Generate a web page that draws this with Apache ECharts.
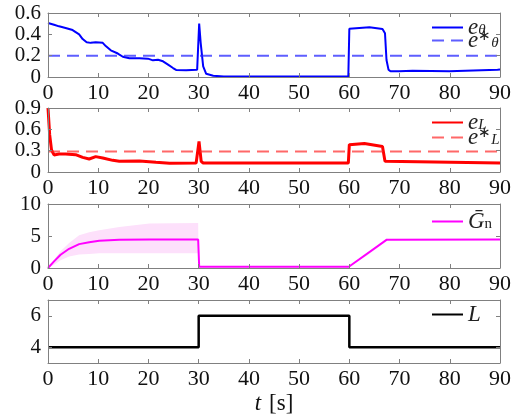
<!DOCTYPE html>
<html><head><meta charset="utf-8">
<script src="https://cdn.jsdelivr.net/npm/echarts@6/dist/echarts.min.js"></script>
<style>html,body{margin:0;padding:0;background:#fff}#c{width:517px;height:420px}</style>
</head><body><div id="c"></div>
<script>
// ---- data ----
const xTicks = [0,10,20,30,40,50,60,70,80,90];
const yTicks1 = [0,0.2,0.4,0.6];
const yTicks2 = [0,0.3,0.6,0.9];
const yTicks3 = [0,5,10];
const yTicks4 = [4,6];

const thetaT = [0,1.2,2.2,3.5,4.9,6.2,6.9,7.7,8.5,9.5,10.9,11.5,12.5,13.9,14.9,16.2,18.2,19.9,20.9,21.9,22.9,23.9,24.9,25.5,27.5,29.7,30.1,30.4,30.9,31.5,32.9,35,59.8,60,64,66.6,67.1,67.4,67.8,68.2,69.9,72.6,79.9,89.5,90];
const thetaV = [.506,.49,.475,.46,.44,.40,.356,.325,.32,.325,.32,.29,.25,.22,.19,.175,.175,.172,.156,.162,.147,.116,.084,.066,.0625,.069,.5,.32,.1,.03,.012,.005,.005,.453,.466,.45,.41,.16,.069,.053,.053,.059,.053,.069,.07];
const thetaRef = 0.2;

const eLT = [0,0.33,0.7,1.2,2.2,3.5,5.5,6.9,8.2,9.5,10.9,12.9,14.2,18.2,21.5,24.2,29.5,29.8,30.07,30.5,30.9,59.8,60,63,66.6,67.1,67.4,90];
const eLV = [.9,.525,.31,.24,.253,.253,.244,.206,.183,.216,.197,.164,.15,.155,.136,.122,.127,.127,.43,.15,.127,.125,.384,.40,.36,.15,.127,.125];
const eLRef = 0.29;

const gnT = [0,1.2,2.5,4.2,6.2,8.2,10.2,14.2,20.2,29.9,30.1,59.9,60,67.4,90];
const gnV = [0,1.04,2.07,3.0,3.73,4.04,4.25,4.4,4.46,4.46,0.2,0.2,0,4.4,4.45];

const bandT  = [0,1.2,2.5,4.2,6.2,8.2,10.2,14.2,20.2,29.9,30.0,59.9,60,63.7,67.4,68,90];
const bandLo = [0,0.5,1.2,1.8,2.1,2.2,2.3,2.3,2.3,2.3,0.2,0.2,0,2.05,4.25,4.45,4.45];
const bandHi = [0,1.3,2.6,3.9,5.1,5.6,5.9,6.4,6.95,7.05,0.2,0.2,0,2.35,4.6,4.45,4.45];

const LT = [0,30,30,60,60,90];
const LV = [4,4,6,6,4,4];

// ---- helpers ----
const zip = (a,b) => a.map((t,i)=>[t,b[i]]);
const FONT = 'Liberation Serif';
const AX = '#808080';
const grids = [
  {left:48, right:17, top:13, height:64},
  {left:48, right:17, top:108, height:64},
  {left:48, right:17, top:204, height:64},
  {left:48, right:17, top:300, height:63}
];
const yCfg = [
  {min:0,max:0.6,ticks:yTicks1},
  {min:0,max:0.9,ticks:yTicks2},
  {min:0,max:10,ticks:yTicks3},
  {min:3,max:7,ticks:yTicks4}
];
const xAxis=[], yAxis=[];
grids.forEach((g,i)=>{
  const base = {type:'value', gridIndex:i, min:0, max:90, z:10,
    axisLine:{show:true,onZero:false,lineStyle:{color:AX,width:1}},
    axisTick:{show:true,inside:true,length:4,lineStyle:{color:AX},customValues:xTicks},
    splitLine:{show:false}};
  xAxis.push(Object.assign({}, base, {position:'bottom',
    axisLabel:{show:true,fontFamily:FONT,fontSize:22,color:'#111',margin:5,customValues:xTicks,hideOverlap:false}},
    i===3 ? {name:'{t|t}{s|[s]}', nameLocation:'middle', nameGap:29,
      nameTextStyle:{rich:{t:{fontFamily:FONT,fontStyle:'italic',fontSize:23,color:'#111',padding:[0,8,0,0]},
                           s:{fontFamily:FONT,fontSize:23,color:'#111'}}}} : {}));
  xAxis.push(Object.assign({}, base, {position:'top', axisLabel:{show:false}}));
  const y = yCfg[i];
  const yb = {type:'value', gridIndex:i, min:y.min, max:y.max, z:10,
    axisLine:{show:true,onZero:false,lineStyle:{color:AX,width:1}},
    axisTick:{show:true,inside:true,length:4,lineStyle:{color:AX},customValues:y.ticks},
    splitLine:{show:false}};
  yAxis.push(Object.assign({}, yb, {position:'left',
    axisLabel:{show:true,fontFamily:FONT,fontSize:21,color:'#111',margin:7,customValues:y.ticks,hideOverlap:false}}));
  yAxis.push(Object.assign({}, yb, {position:'right', axisLabel:{show:false}}));
});
const line = (name, xi, data, color, width, dash, extra) => Object.assign({
  name, type:'line', xAxisIndex:xi*2, yAxisIndex:xi*2, data, symbol:'none',
  lineStyle:{color, width, type: dash ? [12,7] : 'solid'}, itemStyle:{color},
  animation:false, z:3}, extra||{});

const series = [
  line('eth', 0, zip(thetaT,thetaV), '#0000ff', 2),
  line('ethr', 0, [[0,thetaRef],[90,thetaRef]], 'rgba(40,40,255,0.75)', 2, true),
  line('eL', 1, zip(eLT,eLV), '#ff0000', 3),
  line('eLr', 1, [[0,eLRef],[90,eLRef]], 'rgba(255,40,40,0.7)', 2, true),
  {type:'line', xAxisIndex:4, yAxisIndex:4, symbol:'none', animation:false,
   data: zip(bandT,bandHi), lineStyle:{opacity:0},
   areaStyle:{color:'#fde0fb', opacity:1}, z:1},
  {type:'line', xAxisIndex:4, yAxisIndex:4, symbol:'none', animation:false,
   data: zip(bandT,bandLo), lineStyle:{opacity:0},
   areaStyle:{color:'#ffffff', opacity:1}, z:1.5},
  line('Gn', 2, zip(gnT,gnV), '#ff00ff', 2),
  line('L', 3, zip(LT,LV), '#000000', 2.5)
];
const rich = {
  e:{fontFamily:FONT,fontStyle:'italic',fontSize:23,color:'#222',lineHeight:16},
  sub:{fontFamily:FONT,fontStyle:'italic',fontSize:15,color:'#222',padding:[6,0,0,0],lineHeight:16},
  sup:{fontFamily:FONT,fontSize:15,color:'#222',padding:[0,0,8,0],lineHeight:16},
  rm:{fontFamily:FONT,fontSize:15,color:'#222',padding:[6,0,0,0],lineHeight:16}
};
const labels = {
  eth:'{e|e}{sub|θ}', ethr:'{e|e}{sup|∗}{sub|θ}',
  eL:'{e|e}{sub|L}', eLr:'{e|e}{sup|∗}{sub|L}',
  Gn:'{e|G\u0304}{rm|n}', L:'{e|L}'
};
const leg = (names, top, gap) => ({
  data:names, left:426, top, orient:'vertical', itemWidth:31, itemHeight:14, itemGap:gap,
  itemStyle:{opacity:0}, formatter: n => labels[n], textStyle:{rich}, selectedMode:false
});
const option = {
  animation:false,
  grid: grids,
  xAxis, yAxis, series,
  legend: [leg(['eth','ethr'],11,-10), leg(['eL','eLr'],106,-8), leg(['Gn'],205,0), leg(['L'],298,0)]
};
const chart = echarts.init(document.getElementById('c'), null, {renderer:'canvas'});
chart.setOption(option);
</script></body></html>
